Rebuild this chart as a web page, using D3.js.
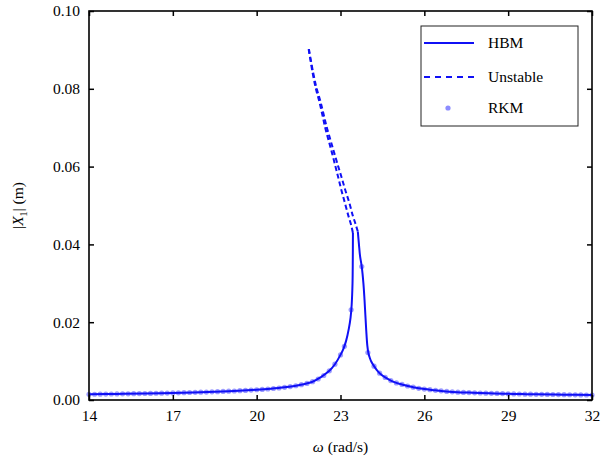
<!DOCTYPE html>
<html>
<head>
<meta charset="utf-8">
<script src="https://cdn.jsdelivr.net/npm/d3@7"></script>
</head>
<body style="margin:0;background:#fff">
<svg id="chart" width="610" height="465"></svg>
<script>
// axis ticks
const xTicks = [14, 17, 20, 23, 26, 29, 32];
const yTicks = [0, 0.02, 0.04, 0.06, 0.08, 0.10];

// HBM stable branch, left of the peak
const hbmLeftW = [14, 15, 16, 17, 18, 19, 20, 20.5, 21, 21.5, 22, 22.3, 22.6, 22.8, 23.0, 23.1, 23.2, 23.3, 23.36, 23.4, 23.43, 23.44, 23.445];
const hbmLeftX = [0.00146, 0.00156, 0.00167, 0.00182, 0.00201, 0.00226, 0.00263, 0.00289, 0.00325, 0.00379, 0.0047, 0.0059, 0.0075, 0.0092, 0.0116, 0.0131, 0.0152, 0.0184, 0.0212, 0.0245, 0.0300, 0.0360, 0.0429];

// HBM stable branch, right of the peak
const hbmRightW = [23.62, 23.66, 23.70, 23.76, 23.82, 23.86, 23.92, 23.96, 24.0, 24.05, 24.1, 24.2, 24.3, 24.4, 24.6, 24.8, 25.0, 25.2, 25.4, 25.6, 25.8, 26.0, 26.4, 26.8, 27.2, 27.6, 28.0, 28.5, 29.0, 29.5, 30.0, 31.0, 32.0];
const hbmRightX = [0.0433, 0.0400, 0.0370, 0.0343, 0.0300, 0.0257, 0.0180, 0.0140, 0.0120, 0.0108, 0.0099, 0.0087, 0.0077, 0.0069, 0.0058, 0.0050, 0.0044, 0.0040, 0.0036, 0.0033, 0.0030, 0.0028, 0.0025, 0.0022, 0.0020, 0.0019, 0.0018, 0.0017, 0.0016, 0.00152, 0.00147, 0.00137, 0.00127];

// unstable branches (dashed)
const unstAW = [21.86, 22.0, 22.12, 22.24, 22.36, 22.46, 22.58, 22.7, 22.82, 22.92, 23.03, 23.16, 23.28, 23.38, 23.445];
const unstAX = [0.0902, 0.0842, 0.0800, 0.0768, 0.0730, 0.0698, 0.0666, 0.0634, 0.0600, 0.0572, 0.0540, 0.0506, 0.0474, 0.0450, 0.0429];
const unstBW = [21.87, 22.02, 22.15, 22.28, 22.41, 22.52, 22.65, 22.78, 22.92, 23.04, 23.17, 23.32, 23.44, 23.54, 23.62];
const unstBX = [0.0902, 0.0842, 0.0800, 0.0768, 0.0730, 0.0698, 0.0666, 0.0634, 0.0600, 0.0572, 0.0540, 0.0506, 0.0474, 0.0452, 0.0433];

// RKM points
const rkmW = [14.0, 14.2, 14.4, 14.6, 14.8, 15.0, 15.2, 15.4, 15.6, 15.8, 16.0, 16.2, 16.4, 16.6, 16.8, 17.0, 17.2, 17.4, 17.6, 17.8,
              18.0, 18.2, 18.4, 18.6, 18.8, 19.0, 19.2, 19.4, 19.6, 19.8, 20.0, 20.2, 20.4, 20.6, 20.8, 21.0, 21.2, 21.4, 21.6, 21.8,
              22.0, 22.2, 22.4, 22.6, 22.8, 23.0, 23.14, 23.38,
              23.76, 23.98, 24.2, 24.4, 24.6, 24.8, 25.0, 25.2, 25.4, 25.6, 25.8, 26.0, 26.2, 26.4, 26.6, 26.8, 27.0, 27.2, 27.4, 27.6,
              27.8, 28.0, 28.2, 28.4, 28.6, 28.8, 29.0, 29.2, 29.4, 29.6, 29.8, 30.0, 30.2, 30.4, 30.6, 30.8, 31.0, 31.2, 31.4, 31.6, 31.8, 32.0];
const rkmX = [0.00146, 0.00148, 0.00150, 0.00152, 0.00154, 0.00156, 0.00158, 0.00160, 0.00162, 0.00164, 0.00167, 0.00170, 0.00173, 0.00176, 0.00179, 0.00182, 0.00185, 0.00189, 0.00193, 0.00197,
              0.00201, 0.00205, 0.00210, 0.00215, 0.00220, 0.00226, 0.00232, 0.00239, 0.00246, 0.00254, 0.00263, 0.00272, 0.00283, 0.00295, 0.00309, 0.00325, 0.00344, 0.00366, 0.00393, 0.00425,
              0.0047, 0.0054, 0.0063, 0.0075, 0.0092, 0.0116, 0.0138, 0.0232,
              0.0343, 0.0122, 0.0087, 0.0069, 0.0058, 0.0050, 0.0044, 0.0040, 0.0036, 0.0033, 0.0030, 0.0028, 0.00265, 0.0025, 0.00235, 0.0022, 0.0021, 0.0020, 0.00195, 0.0019,
              0.00185, 0.0018, 0.00176, 0.00172, 0.00168, 0.00164, 0.0016, 0.00157, 0.00154, 0.00151, 0.00149, 0.00147, 0.00145, 0.00143, 0.00141, 0.00139, 0.00137, 0.00135, 0.00133, 0.00131, 0.00129, 0.00127];

const legendNames = ['HBM', 'Unstable', 'RKM'];

const blue = '#1010f5';
const dotColor = '#8c8cff';
const serif = '"Liberation Serif"';
const fs = '15.5px';

const margin = {left: 89, top: 11, right: 18, bottom: 65};
const W = 610, H = 465;
const w = W - margin.left - margin.right, h = H - margin.top - margin.bottom;

const svg = d3.select('#chart');
svg.append('rect').attr('width', W).attr('height', H).attr('fill', '#fff');

const g = svg.append('g').attr('transform', `translate(${margin.left},${margin.top})`);

const x = d3.scaleLinear().domain([14, 32]).range([0, w]);
const y = d3.scaleLinear().domain([0, 0.10]).range([h, 0]);

const zip = (a, b) => a.map((d, i) => [d, b[i]]);
const line = d3.line().x(d => x(d[0])).y(d => y(d[1])).curve(d3.curveCatmullRom.alpha(0.5));

// RKM dots under the lines
g.append('g').selectAll('circle').data(zip(rkmW, rkmX)).enter()
 .append('circle')
 .attr('cx', d => x(d[0])).attr('cy', d => y(d[1]))
 .attr('r', 2.6).attr('fill', dotColor).attr('fill-opacity', 0.85);

[[hbmLeftW, hbmLeftX], [hbmRightW, hbmRightX]].forEach(s => {
  g.append('path').datum(zip(s[0], s[1]))
   .attr('d', line).attr('fill', 'none')
   .attr('stroke', blue).attr('stroke-width', 2);
});

[[unstAW, unstAX], [unstBW, unstBX]].forEach(s => {
  g.append('path').datum(zip(s[0], s[1]))
   .attr('d', line).attr('fill', 'none')
   .attr('stroke', blue).attr('stroke-width', 2)
   .attr('stroke-dasharray', '5,3');
});

// axes, ticks pointing inward
const tickStyle = sel => {
  sel.attr('font-family', null).attr('font-size', null);
  sel.select('.domain').remove();
  sel.selectAll('line').attr('stroke', '#000').attr('stroke-width', 1.5);
  sel.selectAll('text').style('font-family', serif).style('font-size', fs).attr('fill', '#000');
};

g.append('g').attr('transform', `translate(0,${h})`)
 .call(d3.axisBottom(x).tickValues(xTicks).tickSizeInner(-5).tickSizeOuter(0).tickPadding(10).tickFormat(d3.format('d')))
 .call(tickStyle);
g.append('g')
 .call(d3.axisTop(x).tickValues(xTicks).tickSizeInner(-5).tickSizeOuter(0).tickFormat(''))
 .call(tickStyle);
g.append('g')
 .call(d3.axisLeft(y).tickValues(yTicks).tickSizeInner(-5).tickSizeOuter(0).tickPadding(9).tickFormat(d3.format('.2f')))
 .call(tickStyle);
g.append('g').attr('transform', `translate(${w},0)`)
 .call(d3.axisRight(y).tickValues(yTicks).tickSizeInner(-5).tickSizeOuter(0).tickFormat(''))
 .call(tickStyle);

g.append('rect').attr('width', w).attr('height', h)
 .attr('fill', 'none').attr('stroke', '#000').attr('stroke-width', 1.6);

// axis titles
const xt = svg.append('text').attr('x', margin.left + w / 2).attr('y', 452)
              .attr('text-anchor', 'middle')
              .style('font-family', serif).style('font-size', fs);
xt.append('tspan').style('font-style', 'italic').text('ω');
xt.append('tspan').text(' (rad/s)');

const yt = svg.append('text')
              .attr('transform', `translate(23,${margin.top + h / 2}) rotate(-90)`)
              .attr('text-anchor', 'middle')
              .style('font-family', serif).style('font-size', fs);
yt.append('tspan').text('|');
yt.append('tspan').style('font-style', 'italic').text('X');
yt.append('tspan').style('font-size', '10px').attr('dy', 4).text('1');
yt.append('tspan').attr('dy', -4).text('| (m)');

// legend
const lg = svg.append('g').attr('transform', 'translate(421,26)');
lg.append('rect').attr('width', 157).attr('height', 100)
  .attr('fill', '#fff').attr('stroke', '#222').attr('stroke-width', 1);
const rowY = [17, 51, 82];
lg.append('line').attr('x1', 3).attr('x2', 53).attr('y1', rowY[0]).attr('y2', rowY[0])
  .attr('stroke', blue).attr('stroke-width', 2);
lg.append('line').attr('x1', 3).attr('x2', 53).attr('y1', rowY[1]).attr('y2', rowY[1])
  .attr('stroke', blue).attr('stroke-width', 2).attr('stroke-dasharray', '6,5');
lg.append('circle').attr('cx', 27).attr('cy', rowY[2]).attr('r', 2.6).attr('fill', dotColor);
lg.selectAll('.lt').data(legendNames).enter().append('text')
  .attr('x', 67).attr('y', (d, i) => rowY[i] + 5)
  .style('font-family', serif).style('font-size', fs).text(d => d);
</script>
</body>
</html>
